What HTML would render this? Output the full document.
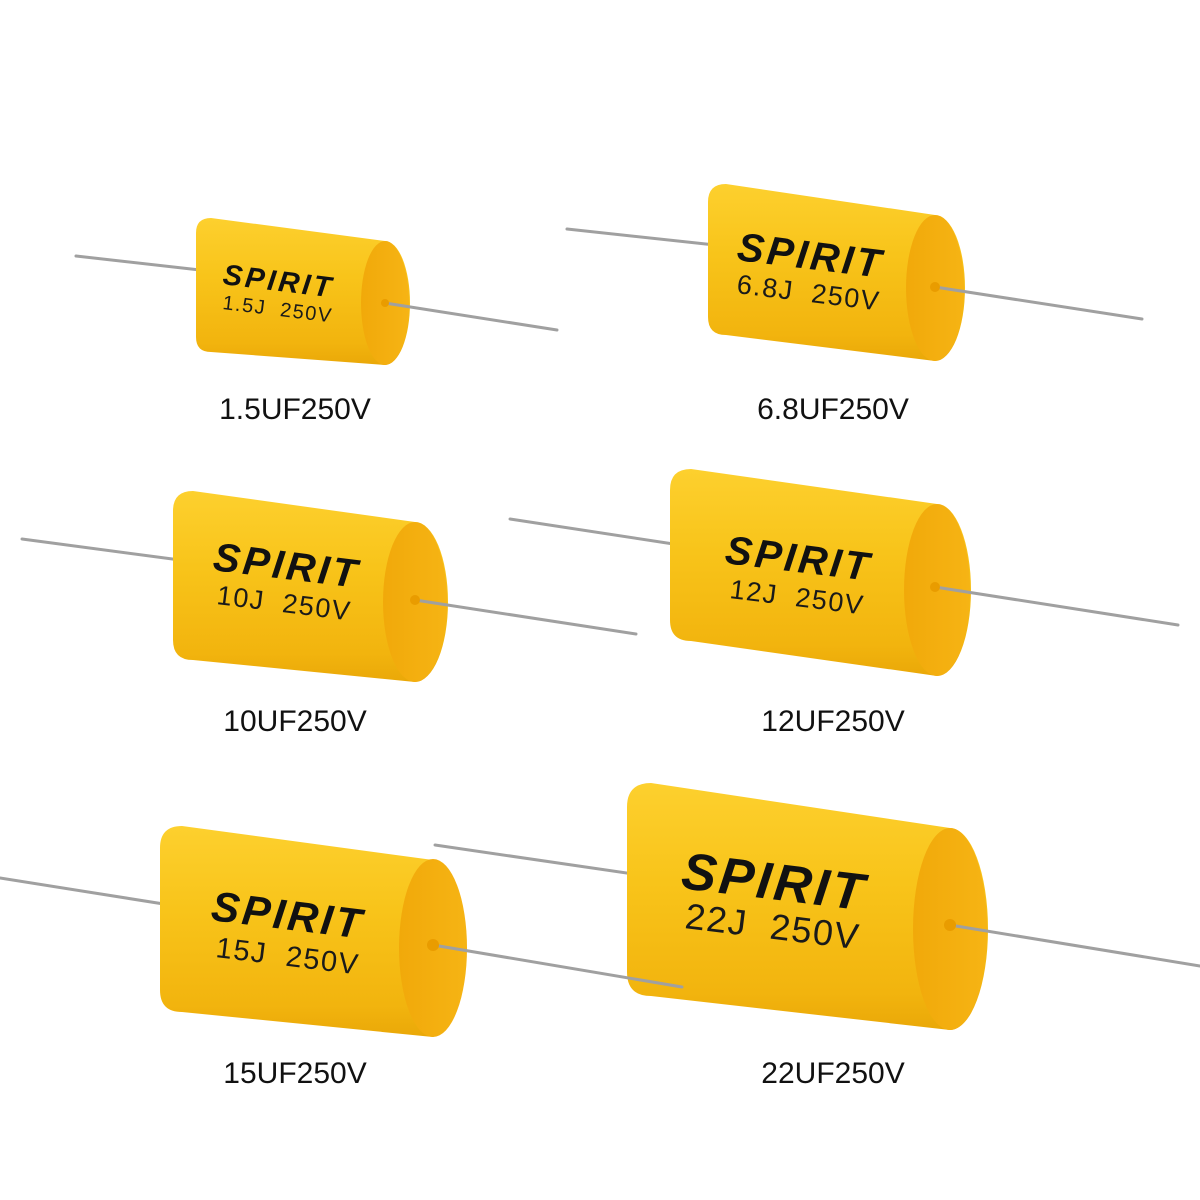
<!DOCTYPE html>
<html><head><meta charset="utf-8"><style>
html,body{margin:0;padding:0;background:#fff;}
svg{display:block;}
.lbl{font-family:"Liberation Sans",sans-serif;font-size:30px;fill:#111;text-anchor:middle;}
.sp{font-family:"Liberation Sans",sans-serif;font-weight:bold;font-style:italic;fill:#111;letter-spacing:3px;}
.vt{font-family:"Liberation Sans",sans-serif;fill:#1a1a1a;letter-spacing:1.5px;}
</style></head><body>
<svg width="1200" height="1200" viewBox="0 0 1200 1200" xmlns="http://www.w3.org/2000/svg">
<defs>
<linearGradient id="by" x1="0" y1="0" x2="0" y2="1">
<stop offset="0" stop-color="#fdd02e"/><stop offset="0.4" stop-color="#f8c41a"/><stop offset="0.85" stop-color="#f2b40e"/><stop offset="1" stop-color="#eaa808"/>
</linearGradient>
<linearGradient id="ec" x1="0" y1="0" x2="1" y2="0">
<stop offset="0" stop-color="#f1a90a"/><stop offset="1" stop-color="#f6b414"/>
</linearGradient>
</defs>

<g stroke="#a0a0a0" stroke-width="3" stroke-linecap="round">
<line x1="76" y1="256" x2="200" y2="270"/>
<line x1="567" y1="229" x2="715" y2="245"/>
<line x1="22" y1="539" x2="180" y2="560"/>
<line x1="510" y1="519" x2="680" y2="545"/>
<line x1="0" y1="878" x2="170" y2="905"/>
<line x1="435" y1="845" x2="640" y2="875"/>
</g>

<!-- cap1 -->
<path d="M211,218 L385,241 A25 62 0 0 1 385,365 L211,352 Q196,352 196,337 L196,233 Q196,218 211,218 Z" fill="url(#by)"/>
<ellipse cx="385" cy="303" rx="24" ry="62" fill="url(#ec)"/>
<!-- cap2 -->
<path d="M726,184 L935,215 A30 73 0 0 1 935,361 L726,335 Q708,335 708,317 L708,202 Q708,184 726,184 Z" fill="url(#by)"/>
<ellipse cx="935" cy="288" rx="29" ry="73" fill="url(#ec)"/>
<!-- cap3 -->
<path d="M193,491 L415,522 A33 80 0 0 1 415,682 L193,660 Q173,660 173,640 L173,511 Q173,491 193,491 Z" fill="url(#by)"/>
<ellipse cx="415" cy="602" rx="32" ry="80" fill="url(#ec)"/>
<!-- cap4 -->
<path d="M691,469 L937,504 A34 86 0 0 1 937,676 L691,641 Q670,641 670,620 L670,490 Q670,469 691,469 Z" fill="url(#by)"/>
<ellipse cx="937" cy="590" rx="33" ry="86" fill="url(#ec)"/>
<!-- cap6 -->
<path d="M651,783 L950,828 A38 101 0 0 1 950,1030 L651,996 Q627,996 627,972 L627,807 Q627,783 651,783 Z" fill="url(#by)"/>
<ellipse cx="950" cy="929" rx="37" ry="101" fill="url(#ec)"/>
<!-- cap5 -->
<path d="M182,826 L433,860 A35 89 0 0 1 433,1037 L182,1012 Q160,1012 160,990 L160,848 Q160,826 182,826 Z" fill="url(#by)"/>
<ellipse cx="433" cy="948" rx="34" ry="89" fill="url(#ec)"/>

<g stroke="#a0a0a0" stroke-width="3" stroke-linecap="round">
<line x1="385" y1="303" x2="557" y2="330"/>
<line x1="935" y1="287" x2="1142" y2="319"/>
<line x1="415" y1="600" x2="636" y2="634"/>
<line x1="935" y1="587" x2="1178" y2="625"/>
<line x1="433" y1="945" x2="682" y2="987"/>
<line x1="950" y1="925" x2="1200" y2="966"/>
</g>
<g fill="#e99c00">
<circle cx="385" cy="303" r="4"/><circle cx="935" cy="287" r="5"/><circle cx="415" cy="600" r="5"/>
<circle cx="935" cy="587" r="5"/><circle cx="433" cy="945" r="6"/><circle cx="950" cy="925" r="6"/>
</g>

<text class="sp" font-size="29" transform="translate(222,284) rotate(7)">SPIRIT</text>
<text class="vt" font-size="20" transform="translate(222,309) rotate(7)">1.5J&#160;&#160;250V</text>
<text class="sp" font-size="40" transform="translate(736,260) rotate(7)">SPIRIT</text>
<text class="vt" font-size="27" transform="translate(736,293) rotate(7)">6.8J&#160;&#160;250V</text>
<text class="sp" font-size="40" transform="translate(212,570) rotate(7)">SPIRIT</text>
<text class="vt" font-size="27" transform="translate(216,604) rotate(7)">10J&#160;&#160;250V</text>
<text class="sp" font-size="40" transform="translate(724,563) rotate(7)">SPIRIT</text>
<text class="vt" font-size="27" transform="translate(729,598) rotate(7)">12J&#160;&#160;250V</text>
<text class="sp" font-size="42" transform="translate(210,920) rotate(7)">SPIRIT</text>
<text class="vt" font-size="29" transform="translate(215,957) rotate(7)">15J&#160;&#160;250V</text>
<text class="sp" font-size="52" transform="translate(680,888) rotate(7)">SPIRIT</text>
<text class="vt" font-size="36" transform="translate(684,928) rotate(7)">22J&#160;&#160;250V</text>

<text class="lbl" x="295" y="419">1.5UF250V</text>
<text class="lbl" x="833" y="419">6.8UF250V</text>
<text class="lbl" x="295" y="731">10UF250V</text>
<text class="lbl" x="833" y="731">12UF250V</text>
<text class="lbl" x="295" y="1083">15UF250V</text>
<text class="lbl" x="833" y="1083">22UF250V</text>
</svg>
</body></html>
